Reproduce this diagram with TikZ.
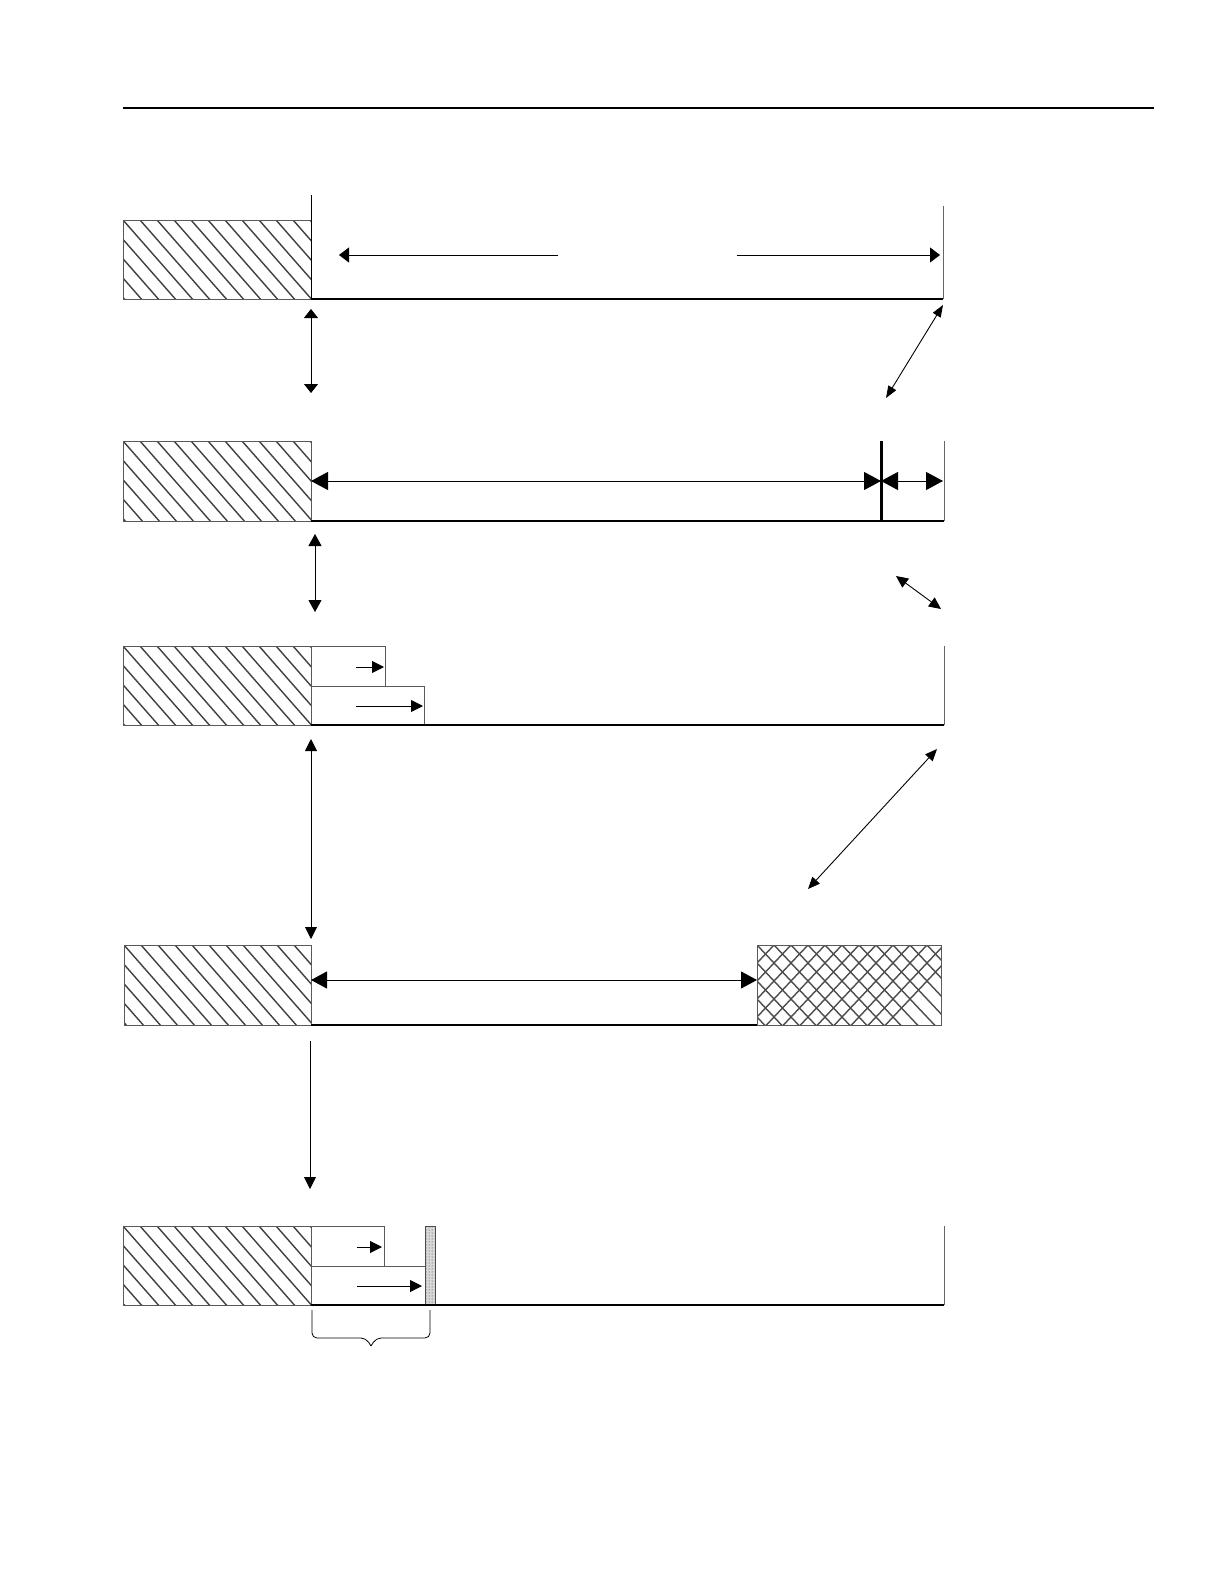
\documentclass[tikz,border=0pt]{standalone}
\usetikzlibrary{arrows.meta,patterns}
\newcommand\hatchbox[4]{%
  \begin{scope}
    \clip (#1,#2) rectangle (#3,#4);
    \foreach \k in {-7,...,12} \draw[hatchln] ({#1+\k*17},#2) -- ++(79,90);
  \end{scope}
  \draw[frame] (#1,#2) rectangle (#3,#4);}
\newcommand\crossbox[4]{%
  \begin{scope}
    \clip (#1,#2) rectangle (#3,#4);
    \foreach \k in {-6,...,12} {
      \draw[crossln] ({#1+\k*17},#2) -- ++(85,90);
      \draw[crossln] ({#1+\k*17},#2) -- ++(-85,90);}
  \end{scope}
  \draw[frame] (#1,#2) rectangle (#3,#4);}
\begin{document}
\begin{tikzpicture}[x=1pt,y=-1pt,
  frame/.style={draw=black!65,line width=0.8pt},
  hatchln/.style={line width=1.4pt,black!75},
  crossln/.style={line width=1.4pt,black!70},
  base/.style={line width=1.3pt},
  thinln/.style={line width=0.9pt},
  edge/.style={line width=0.9pt,black!60},
  dbl/.style args={#1/#2}{line width=0.9pt,{Triangle[length=#1,width=#2]}-{Triangle[length=#1,width=#2]}},
  sgl/.style args={#1/#2}{line width=0.9pt,-{Triangle[length=#1,width=#2]}}]
\useasboundingbox (0,0) rectangle (1224,1584);
% header rule
\draw[line width=2.5pt] (123,108) coordinate (r0) -- (1154,108) coordinate (r1);

% ---------- row 1 ----------
\hatchbox{123}{220}{311}{299}
\draw[thinln] (311,195) coordinate (v1t) -- (311,299) coordinate (v1b);
\draw[edge] (943,206) coordinate (e1t) -- (943,299) coordinate (e1b);
\draw[base] (v1b) -- (e1b);
\coordinate (a1s) at (558,255); \coordinate (a1e) at (339,255);
\coordinate (a2s) at (737,255); \coordinate (a2e) at (940,255);
\draw[sgl=10/15] (a1s) -- (a1e);
\draw[sgl=10/15] (a2s) -- (a2e);
\coordinate (d1a) at (311,309); \coordinate (d1b) at (311,393);
\draw[dbl=9/14] (d1a) -- (d1b);
\coordinate (g1a) at (943,305); \coordinate (g1b) at (886,398);
\draw[dbl=12/9] (g1a) -- (g1b);

% ---------- row 2 ----------
\hatchbox{123}{441}{311}{521}
\draw[edge] (944,441) coordinate (e2t) -- (944,521) coordinate (e2b);
\draw[line width=3pt] (881,441) coordinate (m2t) -- (881,521) coordinate (m2b);
\draw[base] (311,521) -- (e2b);
\coordinate (h2a) at (311,481); \coordinate (h2m) at (881,481); \coordinate (h2b) at (943,481);
\draw[dbl=17/18] (h2a) -- (h2m);
\draw[dbl=17/18] (h2m) -- (h2b);
\coordinate (d2a) at (315,534); \coordinate (d2b) at (315,612);
\draw[dbl=12/13] (d2a) -- (d2b);
\coordinate (g2a) at (896,576); \coordinate (g2b) at (941,609);
\draw[dbl=12/11] (g2a) -- (g2b);

% ---------- row 3 ----------
\hatchbox{123}{646}{311}{725}
\draw[frame] (311,646) rectangle (385,686);
\draw[frame] (311,686) rectangle (424,725);
\coordinate (s3a) at (356,667); \coordinate (s3b) at (384,667);
\coordinate (t3a) at (356,706); \coordinate (t3b) at (423,706);
\draw[sgl=12/12] (s3a) -- (s3b);
\draw[sgl=12/12] (t3a) -- (t3b);
\draw[edge] (944,646) coordinate (e3t) -- (944,725) coordinate (e3b);
\draw[base] (311,725) -- (e3b);
\coordinate (d3a) at (311,739); \coordinate (d3b) at (311,939);
\draw[dbl=12/12] (d3a) -- (d3b);
\coordinate (g3a) at (937,749); \coordinate (g3b) at (808,889);
\draw[dbl=12/10] (g3a) -- (g3b);

% ---------- row 4 ----------
\hatchbox{124}{945}{311}{1025}
\crossbox{757}{945}{941}{1025}
\coordinate (h4a) at (311,980); \coordinate (h4b) at (757,980);
\draw[dbl=16/17] (h4a) -- (h4b);
\draw[base] (311,1025) -- (757,1025);
\coordinate (d4a) at (310,1041); \coordinate (d4b) at (310,1189);
\draw[sgl=12/12] (d4a) -- (d4b);

% ---------- row 5 ----------
\hatchbox{123}{1226}{311}{1305}
\draw[frame] (311,1226) rectangle (384,1266);
\draw[frame] (311,1266) rectangle (425,1305);
\fill[black!15] (425,1226) rectangle (435,1305);
\fill[pattern=dots,pattern color=black!80] (425,1226) rectangle (435,1305);
\draw[line width=0.8pt,draw=black!70] (425,1226) rectangle (435,1305);
\coordinate (s5a) at (357,1247); \coordinate (s5b) at (382,1247);
\coordinate (t5a) at (357,1286); \coordinate (t5b) at (422,1286);
\draw[sgl=12/12] (s5a) -- (s5b);
\draw[sgl=12/12] (t5a) -- (t5b);
\draw[edge] (944,1226) coordinate (e5t) -- (944,1305) coordinate (e5b);
\draw[base] (311,1305) -- (e5b);
% brace
\draw[line width=0.8pt,rounded corners=5pt]
  (312,1310) -- (312,1338) -- (366,1338) -- (371,1346);
\draw[line width=0.8pt,rounded corners=5pt]
  (430,1310) -- (430,1338) -- (376,1338) -- (371,1346);
\end{tikzpicture}
\end{document}
